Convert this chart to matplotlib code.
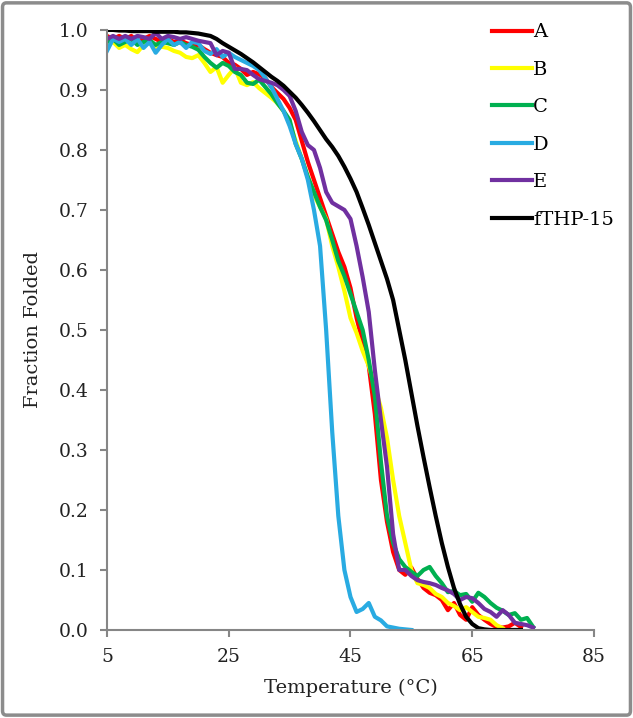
import numpy as np
import matplotlib
matplotlib.use("Agg")
import matplotlib.pyplot as plt
from matplotlib.patches import FancyBboxPatch
from matplotlib.ticker import FormatStrFormatter

# temperature grid (deg C), one reading per degree
temps = list(range(5, 76))
nan = np.nan

series_a = [0.99, 0.985, 0.99, 0.985, 0.99, 0.98, 0.985, 0.99, 0.985, 0.98,
            0.985, 0.98, 0.983, 0.978, 0.975, 0.975, 0.968, 0.962, 0.958, 0.955,
            0.945, 0.942, 0.935, 0.925, 0.93, 0.926, 0.92, 0.905, 0.895, 0.885,
            0.87, 0.85, 0.815, 0.78, 0.75, 0.72, 0.69, 0.66, 0.63, 0.605,
            0.57, 0.52, 0.48, 0.44, 0.36, 0.25, 0.18, 0.13, 0.1, 0.092,
            0.104, 0.085, 0.07, 0.062, 0.058, 0.05, 0.033, 0.045, 0.025, 0.017,
            0.038, 0.025, 0.017, 0.01, 0.005, 0.004, 0.006, 0.012, 0.005, nan, nan]

series_b = [0.975, 0.98, 0.97, 0.975, 0.968, 0.963, 0.975, 0.978, 0.97, 0.972,
            0.97, 0.965, 0.962, 0.955, 0.953, 0.958, 0.945, 0.93, 0.938, 0.912,
            0.925, 0.937, 0.912, 0.908, 0.913, 0.903, 0.895, 0.887, 0.878, 0.865,
            0.845, 0.815, 0.785, 0.755, 0.725, 0.705, 0.685, 0.64, 0.605, 0.565,
            0.52, 0.495, 0.465, 0.44, 0.405, 0.37, 0.32, 0.25, 0.19, 0.145,
            0.1, 0.078, 0.075, 0.07, 0.06, 0.055, 0.045, 0.04, 0.033, 0.038,
            0.03, 0.022, 0.02, 0.017, 0.008, 0.003, nan, nan, nan, nan, nan]

series_c = [0.98, 0.985, 0.975, 0.98, 0.985, 0.975, 0.98, 0.983, 0.975, 0.98,
            0.978, 0.975, 0.98, 0.975, 0.972, 0.967, 0.955, 0.945, 0.937, 0.945,
            0.94, 0.93, 0.925, 0.912, 0.91, 0.917, 0.905, 0.893, 0.878, 0.865,
            0.85, 0.81, 0.785, 0.755, 0.73, 0.705, 0.683, 0.65, 0.615, 0.59,
            0.56, 0.53, 0.5, 0.45, 0.39, 0.28, 0.19, 0.145, 0.118, 0.105,
            0.097, 0.09, 0.1, 0.105, 0.09, 0.078, 0.063, 0.065, 0.058, 0.06,
            0.047, 0.062, 0.055, 0.045, 0.037, 0.032, 0.025, 0.028, 0.017, 0.02, 0.005]

series_d = [0.965, 0.985, 0.98, 0.985, 0.975, 0.985, 0.97, 0.98, 0.962, 0.975,
            0.985, 0.975, 0.98, 0.97, 0.98, 0.978, 0.965, 0.96, 0.968, 0.955,
            0.962, 0.955, 0.95, 0.945, 0.94, 0.933, 0.92, 0.905, 0.885, 0.865,
            0.84, 0.81, 0.785, 0.75, 0.7, 0.64, 0.5, 0.33, 0.19, 0.1,
            0.055, 0.03, 0.035, 0.045, 0.022, 0.016, 0.006, 0.004, 0.002, 0.001,
            0.0] + [nan] * 20

series_e = [0.985, 0.99, 0.985, 0.99, 0.985, 0.99, 0.988, 0.985, 0.995, 0.985,
            0.99, 0.988, 0.985, 0.988, 0.985, 0.982, 0.98, 0.978, 0.958, 0.965,
            0.962, 0.935, 0.935, 0.933, 0.925, 0.918, 0.915, 0.912, 0.908, 0.9,
            0.89, 0.865, 0.83, 0.808, 0.8, 0.77, 0.73, 0.712, 0.706, 0.7,
            0.685, 0.64, 0.588, 0.53, 0.433, 0.35, 0.272, 0.16, 0.1, 0.1,
            0.09, 0.083, 0.08, 0.078, 0.075, 0.07, 0.066, 0.06, 0.05, 0.055,
            0.053, 0.045, 0.035, 0.03, 0.022, 0.033, 0.025, 0.012, 0.01, 0.008, 0.004]

series_fthp = [1.0, 1.0, 0.999, 0.999, 0.998, 0.998, 0.998, 0.998, 0.997, 0.997,
               0.997, 0.997, 0.996, 0.996, 0.995, 0.994, 0.992, 0.99, 0.985, 0.978,
               0.972, 0.966, 0.96, 0.953, 0.946, 0.938, 0.93, 0.922, 0.915, 0.907,
               0.897, 0.887, 0.875, 0.862, 0.848, 0.833, 0.818, 0.805, 0.79, 0.772,
               0.752, 0.73, 0.703, 0.675, 0.645, 0.615, 0.585, 0.55, 0.5, 0.45,
               0.395, 0.34, 0.288, 0.238, 0.19, 0.145, 0.105, 0.07, 0.043, 0.022,
               0.01, 0.003, 0.001, 0.0, 0.0, 0.0, 0.0, 0.0, 0.0, nan, nan]

labels = ["A", "B", "C", "D", "E", "fTHP-15"]
colors = ["#ff0000", "#ffff00", "#00b050", "#29abe2", "#7030a0", "#000000"]
all_series = [series_a, series_b, series_c, series_d, series_e, series_fthp]

plt.rcParams["font.family"] = "DejaVu Serif"

fig = plt.figure(figsize=(6.33, 7.18), dpi=100)
ax = fig.add_axes([0.169, 0.1226, 0.7694, 0.8357])

for vals, lab, col in zip(all_series, labels, colors):
    ax.plot(temps, vals, color=col, lw=3, label=lab, solid_joinstyle="round")

ax.set_xlim(5, 85)
ax.set_ylim(0, 1.0)
ax.set_xticks([5, 25, 45, 65, 85])
ax.set_yticks(np.arange(0, 1.01, 0.1))
ax.yaxis.set_major_formatter(FormatStrFormatter("%.1f"))

axis_grey = "#868686"
for side in ["top", "right"]:
    ax.spines[side].set_visible(False)
for side in ["left", "bottom"]:
    ax.spines[side].set_color(axis_grey)
    ax.spines[side].set_linewidth(1.5)
ax.tick_params(axis="both", direction="out", length=5, width=1.5, color=axis_grey,
               labelsize=13.5, labelcolor="#222222", pad=8)

ax.set_xlabel("Temperature (°C)", fontsize=14, color="#222222", labelpad=9)
ax.set_ylabel("Fraction Folded", fontsize=14, color="#222222", labelpad=12)

ax.legend(loc="upper left", bbox_to_anchor=(0.775, 1.024), frameon=False,
          fontsize=14, handlelength=2.05, handletextpad=0.05, labelspacing=1.0,
          borderaxespad=0)

# grey rounded frame round the whole picture
frame = FancyBboxPatch((0.004, 0.004), 0.992, 0.992, boxstyle="round,pad=0,rounding_size=0.006",
                       transform=fig.transFigure, fill=False, edgecolor="#8c8c8c", lw=2.5)
fig.patches.append(frame)

fig.savefig("out.png", dpi=100)
